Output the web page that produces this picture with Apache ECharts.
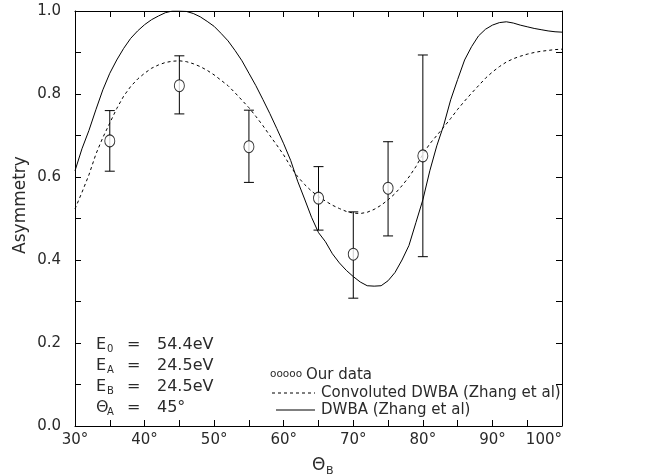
<!DOCTYPE html>
<html>
<head>
<meta charset="utf-8">
<script src="https://cdn.jsdelivr.net/npm/echarts@6/dist/echarts.min.js"></script>
<style>
html,body{margin:0;padding:0;background:#fff;}
#chart{width:659px;height:476px;}
</style>
</head>
<body>
<div id="chart"></div>
<script>
// ---- data ----
var angles = [35, 45, 55, 65, 70, 75, 80];
var asymmetry = [0.687, 0.820, 0.673, 0.549, 0.414, 0.573, 0.651];
var errLow = [0.614, 0.752, 0.587, 0.472, 0.308, 0.458, 0.408];
var errHigh = [0.760, 0.892, 0.761, 0.625, 0.516, 0.685, 0.894];

var curveAngles = [30,31,32,33,34,35,36,37,38,39,40,41,42,43,44,45,46,47,48,49,50,
  51,52,53,54,55,56,57,58,59,60,61,62,63,64,65,66,67,68,69,70,
  71,72,73,74,75,76,77,78,79,80,81,82,83,84,85,86,87,88,89,90,
  91,92,93,94,95,96,97,98,99,100];
var dwba = [0.615,0.668,0.712,0.762,0.81,0.85,0.882,0.91,0.934,0.952,0.967,
  0.979,0.988,0.996,1.0,1.0,0.999,0.994,0.986,0.975,0.963,
  0.946,0.928,0.905,0.88,0.85,0.82,0.787,0.753,0.717,0.68,
  0.64,0.59,0.547,0.503,0.466,0.444,0.415,0.393,0.375,0.36,
  0.347,0.338,0.337,0.338,0.35,0.37,0.40,0.435,0.49,0.545,
  0.615,0.675,0.725,0.786,0.835,0.882,0.914,0.94,0.956,0.966,
  0.972,0.974,0.971,0.966,0.962,0.958,0.955,0.952,0.95,0.949];
var convDwba = [0.523,0.563,0.605,0.655,0.695,0.73,0.765,0.795,0.818,0.836,0.85,
  0.862,0.87,0.876,0.879,0.88,0.878,0.873,0.866,0.857,0.846,
  0.833,0.82,0.803,0.785,0.767,0.746,0.724,0.70,0.677,0.653,
  0.625,0.601,0.582,0.566,0.553,0.542,0.532,0.524,0.517,0.513,
  0.512,0.515,0.522,0.532,0.545,0.56,0.579,0.60,0.625,0.655,
  0.68,0.70,0.72,0.741,0.763,0.783,0.802,0.82,0.838,0.853,
  0.866,0.877,0.885,0.891,0.896,0.90,0.903,0.905,0.907,0.908];

var legendLabels = ['Our data', 'Convoluted DWBA (Zhang et al)', 'DWBA (Zhang et al)'];
var paramSymbols = ['E', 'E', 'E', 'Θ'];
var paramSubs = ['0', 'A', 'B', 'A'];
var paramValues = ['54.4eV', '24.5eV', '24.5eV', '45°'];
var yAxisTitle = 'Asymmetry';
var xAxisSymbol = 'Θ';
var xAxisSub = 'B';

// ---- build ----
var FONT = 'DejaVu Sans';
var TXT = '#2a2a2a';
function zip(a, b) { return a.map(function (v, i) { return [v, b[i]]; }); }

var graphics = [];
// y axis title
graphics.push({type:'text', x:21, y:205, rotation:Math.PI/2,
  style:{text:yAxisTitle, font:'17px "'+FONT+'"', fill:TXT, align:'center', verticalAlign:'middle'}});
// x axis title
graphics.push({type:'text', x:312, y:466,
  style:{text:xAxisSymbol, font:'17px "'+FONT+'"', fill:TXT, align:'left', verticalAlign:'middle'}});
graphics.push({type:'text', x:326, y:471,
  style:{text:xAxisSub, font:'11px "'+FONT+'"', fill:TXT, align:'left', verticalAlign:'middle'}});
// parameters block
paramSymbols.forEach(function (s, i) {
  var y = 345 + i * 21;
  graphics.push({type:'text', x:96, y:y, style:{text:s, font:'16px "'+FONT+'"', fill:TXT, verticalAlign:'middle'}});
  graphics.push({type:'text', x:107, y:y+4, style:{text:paramSubs[i], font:'10px "'+FONT+'"', fill:TXT, verticalAlign:'middle'}});
  graphics.push({type:'text', x:127, y:y, style:{text:'=', font:'16px "'+FONT+'"', fill:TXT, verticalAlign:'middle'}});
  graphics.push({type:'text', x:157, y:y, style:{text:paramValues[i], font:'16px "'+FONT+'"', fill:TXT, verticalAlign:'middle'}});
});
// legend
var legY = [375, 393, 410];
graphics.push({type:'text', x:270, y:legY[0]-1, style:{text:'ooooo', font:'10.5px "'+FONT+'"', fill:TXT, verticalAlign:'middle'}});
graphics.push({type:'text', x:306, y:legY[0], style:{text:legendLabels[0], font:'15px "'+FONT+'"', fill:TXT, verticalAlign:'middle'}});
graphics.push({type:'line', shape:{x1:272, y1:legY[1], x2:315, y2:legY[1]}, style:{stroke:'#000', lineWidth:1, lineDash:[3,3]}});
graphics.push({type:'text', x:321, y:legY[1], style:{text:legendLabels[1], font:'15px "'+FONT+'"', fill:TXT, verticalAlign:'middle'}});
graphics.push({type:'line', shape:{x1:276, y1:legY[2], x2:315, y2:legY[2]}, style:{stroke:'#000', lineWidth:1}});
graphics.push({type:'text', x:321, y:legY[2], style:{text:legendLabels[2], font:'15px "'+FONT+'"', fill:TXT, verticalAlign:'middle'}});

var axisCommon = {
  axisLine:{show:true, onZero:false, lineStyle:{color:'#000', width:1}},
  axisTick:{show:true, inside:true, length:6, lineStyle:{color:'#000', width:1}},
  splitLine:{show:false}
};

var chart = echarts.init(document.getElementById('chart'), null, {renderer:'canvas'});
chart.setOption({
  animation:false,
  backgroundColor:'#fff',
  grid:{left:75, right:97, top:11, bottom:50, containLabel:false},
  xAxis:[
    Object.assign({type:'value', min:30, max:100, interval:5, position:'bottom',
      axisLabel:{show:true, margin:7, color:TXT, fontFamily:FONT, fontSize:15, alignMaxLabel:'right',
        formatter:function (v) { return v % 10 === 0 ? v + '°' : ''; }}}, axisCommon),
    Object.assign({type:'value', min:30, max:100, interval:5, position:'top',
      axisLabel:{show:false}}, axisCommon)
  ],
  yAxis:[
    Object.assign({type:'value', min:0, max:1, interval:0.1, position:'left',
      axisLabel:{show:true, margin:14, color:TXT, fontFamily:FONT, fontSize:15,
        formatter:function (v) { return Math.round(v * 10) % 2 === 0 ? v.toFixed(1) : ''; }}}, axisCommon),
    Object.assign({type:'value', min:0, max:1, interval:0.1, position:'right',
      axisLabel:{show:false}}, axisCommon)
  ],
  graphic:graphics,
  series:[
    {name:legendLabels[2], type:'line', data:zip(curveAngles, dwba), showSymbol:false, symbol:'none',
      lineStyle:{color:'#000', width:1}, z:2},
    {name:legendLabels[1], type:'line', data:zip(curveAngles, convDwba), showSymbol:false, symbol:'none',
      lineStyle:{color:'#000', width:1, type:[3,3]}, z:2},
    {name:'errors', type:'custom',
      data:angles.map(function (a, i) { return [a, errLow[i], errHigh[i]]; }),
      renderItem:function (params, api) {
        var top = api.coord([api.value(0), api.value(2)]);
        var bot = api.coord([api.value(0), api.value(1)]);
        var w = 5;
        var st = {stroke:'#000', lineWidth:1};
        return {type:'group', children:[
          {type:'line', shape:{x1:top[0], y1:top[1], x2:bot[0], y2:bot[1]}, style:st},
          {type:'line', shape:{x1:top[0]-w, y1:top[1], x2:top[0]+w, y2:top[1]}, style:st},
          {type:'line', shape:{x1:bot[0]-w, y1:bot[1], x2:bot[0]+w, y2:bot[1]}, style:st}
        ]};
      }, z:3},
    {name:legendLabels[0], type:'scatter', data:zip(angles, asymmetry), symbol:'circle', symbolSize:[10,12],
      itemStyle:{color:'#fff', borderColor:'#000', borderWidth:1}, z:4}
  ]
});
</script>
</body>
</html>
